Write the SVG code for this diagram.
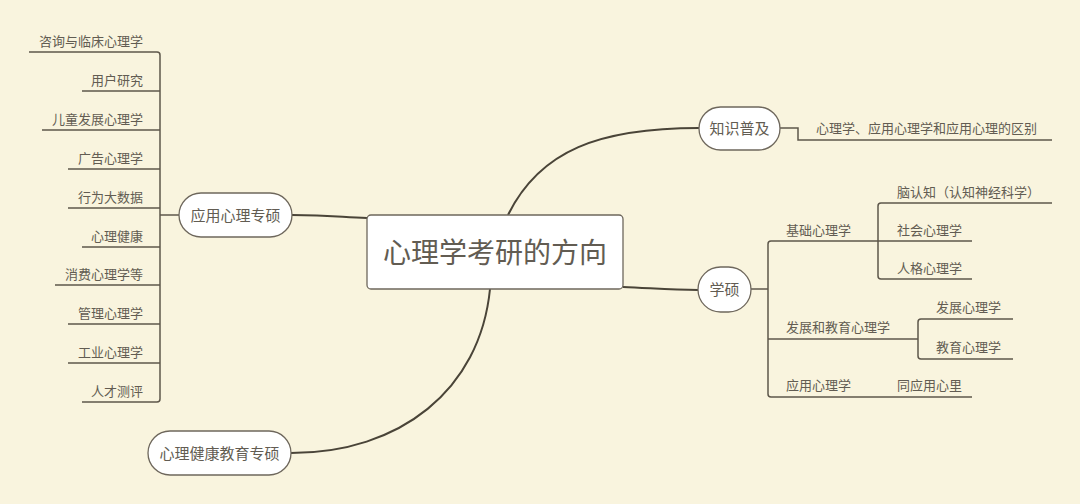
<svg xmlns="http://www.w3.org/2000/svg" width="1080" height="504" viewBox="0 0 1080 504">
<style>
.bg{fill:#F9F4DE}
.br{fill:none;stroke:#5e574b;stroke-width:1.5}
.cv{fill:none;stroke:#4a4438;stroke-width:2}
.nd{fill:#ffffff;stroke:#6e675c;stroke-width:1.3}
.t{font-family:"Noto Sans CJK SC","Noto Sans",sans-serif;fill:#625c52;font-size:13px}
.tn{font-family:"Noto Sans CJK SC","Noto Sans",sans-serif;fill:#625c52;font-size:15px;text-anchor:middle}
.r{text-anchor:end}
</style>
<rect class="bg" x="0" y="0" width="1080" height="504"/>
<g id="connectors">
<path class="cv" d="M292,215 C330,215 340,217 367,218"/>
<path class="cv" d="M508,215 C540,150 600,128 699,128"/>
<path class="cv" d="M623,287 C650,288 670,290 698,290"/>
<path class="cv" d="M490,289 C480,390 400,453 291,453"/>
<path class="br" d="M179,215 H160"/>
<path class="br" d="M29,52 H157 Q160,52 160,55 V399 Q160,402 157,402 H82"/>
<path class="br" d="M82,91 H160 M42,130 H160 M68,169 H160 M68,208 H160 M82,247 H160 M55,285 H160 M68,324 H160 M68,363 H160"/>
<path class="br" d="M780,128 H798 V140 H1052"/>
<path class="br" d="M751,289 H768"/>
<path class="br" d="M771,241 H972 M768,244 Q768,241 771,241 M768,244 V394 Q768,397 771,397 H972"/>
<path class="br" d="M768,339 H918"/>
<path class="br" d="M1052,203 H881 Q878,203 878,206 V276 Q878,279 881,279 H972"/>
<path class="br" d="M1013,319 H921 Q918,319 918,322 V356 Q918,359 921,359 H1013"/>
</g>
<g id="center">
<rect class="nd" x="367" y="215" width="256" height="74" rx="4"/>
<text class="tn" x="495" y="263" style="font-size:28px">心理学考研的方向</text>
</g>
<g id="node-yingyong">
<rect class="nd" x="179" y="193" width="113" height="44" rx="22"/>
<text class="tn" x="235.5" y="220.5">应用心理专硕</text>
</g>
<g id="node-jiankang">
<rect class="nd" x="148" y="431" width="143" height="44" rx="22"/>
<text class="tn" x="219.5" y="458.5">心理健康教育专硕</text>
</g>
<g id="node-zhishi">
<rect class="nd" x="699" y="107" width="81" height="43" rx="21.5"/>
<text class="tn" x="739.5" y="134">知识普及</text>
</g>
<g id="node-xueshuo">
<rect class="nd" x="698" y="267" width="53" height="45" rx="22.5"/>
<text class="tn" x="724.5" y="295">学硕</text>
</g>
<g id="left-items">
<text class="t r" x="143" y="46">咨询与临床心理学</text>
<text class="t r" x="143" y="85">用户研究</text>
<text class="t r" x="143" y="124">儿童发展心理学</text>
<text class="t r" x="143" y="163">广告心理学</text>
<text class="t r" x="143" y="202">行为大数据</text>
<text class="t r" x="143" y="241">心理健康</text>
<text class="t r" x="143" y="279">消费心理学等</text>
<text class="t r" x="143" y="318">管理心理学</text>
<text class="t r" x="143" y="357">工业心理学</text>
<text class="t r" x="143" y="396">人才测评</text>
</g>
<g id="right-items">
<text class="t" x="816" y="133">心理学、应用心理学和应用心理的区别</text>
<text class="t" x="786" y="235">基础心理学</text>
<text class="t" x="897" y="197">脑认知（认知神经科学）</text>
<text class="t" x="897" y="235">社会心理学</text>
<text class="t" x="897" y="273">人格心理学</text>
<text class="t" x="786" y="332">发展和教育心理学</text>
<text class="t" x="936" y="312">发展心理学</text>
<text class="t" x="936" y="352">教育心理学</text>
<text class="t" x="786" y="390">应用心理学</text>
<text class="t" x="897" y="390">同应用心里</text>
</g>
</svg>
